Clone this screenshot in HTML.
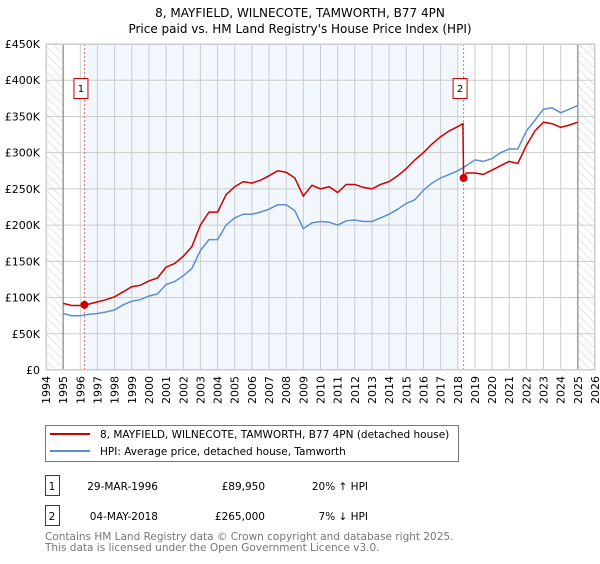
<!DOCTYPE html>
<html><head><meta charset="utf-8"><style>
body{margin:0;width:600px;height:560px;background:#fff;font-family:"DejaVu Sans","Liberation Sans",sans-serif;overflow:hidden}
svg text{font-family:"DejaVu Sans","Liberation Sans",sans-serif}
</style></head><body>
<svg id="chart" width="600" height="560">
<defs><pattern id="hatch" width="6" height="6" patternUnits="userSpaceOnUse" patternTransform="rotate(-45)"><line x1="0" y1="0" x2="0" y2="6" stroke="#ccc" stroke-width="1"/></pattern></defs>
<text x="300" y="17" text-anchor="middle" font-size="12">8, MAYFIELD, WILNECOTE, TAMWORTH, B77 4PN</text>
<text x="300" y="33" text-anchor="middle" font-size="12">Price paid vs. HM Land Registry's House Price Index (HPI)</text>
<g id="grid"></g><g id="series"></g><g id="axes"></g>
<g>
<rect x="45.5" y="425.5" width="413" height="36" fill="#fff" stroke="#777"/>
<line x1="50" y1="434" x2="90" y2="434" stroke="#cc0000" stroke-width="2"/>
<text x="100" y="438" font-size="10.5">8, MAYFIELD, WILNECOTE, TAMWORTH, B77 4PN (detached house)</text>
<line x1="50" y1="451" x2="90" y2="451" stroke="#5b8fd0" stroke-width="2"/>
<text x="100" y="455" font-size="10.5">HPI: Average price, detached house, Tamworth</text>
</g>
<g font-size="10.5">
<rect x="45.5" y="475.5" width="14" height="20" fill="#fff" stroke="#cc0000"/><text x="52" y="490" text-anchor="middle">1</text>
<text x="158" y="490" text-anchor="end">29-MAR-1996</text><text x="265" y="490" text-anchor="end">£89,950</text><text x="368" y="490" text-anchor="end">20% ↑ HPI</text>
<rect x="45.5" y="505.5" width="14" height="20" fill="#fff" stroke="#cc0000"/><text x="52" y="520" text-anchor="middle">2</text>
<text x="158" y="520" text-anchor="end">04-MAY-2018</text><text x="265" y="520" text-anchor="end">£265,000</text><text x="368" y="520" text-anchor="end">7% ↓ HPI</text>
</g>
<text x="45" y="540" font-size="10.5" fill="#777">Contains HM Land Registry data © Crown copyright and database right 2025.</text>
<text x="45" y="551" font-size="10.5" fill="#777">This data is licensed under the Open Government Licence v3.0.</text>
</svg>
<script>
const hpiYears=[1995,1995.5,1996,1996.5,1997,1997.5,1998,1998.5,1999,1999.5,2000,2000.5,2001,2001.5,2002,2002.5,2003,2003.5,2004,2004.5,2005,2005.5,2006,2006.5,2007,2007.5,2008,2008.5,2009,2009.5,2010,2010.5,2011,2011.5,2012,2012.5,2013,2013.5,2014,2014.5,2015,2015.5,2016,2016.5,2017,2017.5,2018,2018.5,2019,2019.5,2020,2020.5,2021,2021.5,2022,2022.5,2023,2023.5,2024,2024.5,2025];
const hpiValues=[78,75,75,77,78,80,83,90,95,97,102,105,118,122,130,140,165,180,180,200,210,215,215,218,222,228,228,220,195,203,205,204,200,206,207,205,205,210,215,222,230,235,248,258,265,270,275,282,290,288,292,300,305,305,330,345,360,362,355,360,365];
const redYears=[1995,1995.5,1996,1996.24,1996.5,1997,1997.5,1998,1998.5,1999,1999.5,2000,2000.5,2001,2001.5,2002,2002.5,2003,2003.5,2004,2004.5,2005,2005.5,2006,2006.5,2007,2007.5,2008,2008.5,2009,2009.5,2010,2010.5,2011,2011.5,2012,2012.5,2013,2013.5,2014,2014.5,2015,2015.5,2016,2016.5,2017,2017.5,2018,2018.3,2018.34,2018.5,2019,2019.5,2020,2020.5,2021,2021.5,2022,2022.5,2023,2023.5,2024,2024.5,2025];
const redValues=[92,89,89,90,91,94,97,101,108,115,117,123,127,142,147,157,170,200,218,218,242,253,260,258,262,268,275,273,265,240,255,250,253,245,256,256,252,250,256,260,268,278,290,300,312,322,330,336,340,265,272,272,270,276,282,288,285,310,330,342,340,335,338,342];
const yTicks=[0,50,100,150,200,250,300,350,400,450];
const xTicks=[1994,1995,1996,1997,1998,1999,2000,2001,2002,2003,2004,2005,2006,2007,2008,2009,2010,2011,2012,2013,2014,2015,2016,2017,2018,2019,2020,2021,2022,2023,2024,2025,2026];
const sales=[{t:1996.24,v:89.95,label:"1"},{t:2018.34,v:265,label:"2"}];
const X0=46,X1=595,Y0=370,Y1=44;
const x=t=>X0+(t-1994)/32*(X1-X0);
const y=v=>Y0-v/450*(Y0-Y1);
const NS="http://www.w3.org/2000/svg";
function mk(tag,parent,attrs){const e=document.createElementNS(NS,tag);for(const k in attrs)e.setAttribute(k,attrs[k]);parent.appendChild(e);return e;}
const grid=document.getElementById('grid'),series=document.getElementById('series'),axes=document.getElementById('axes');
mk('rect',grid,{x:X0,y:Y1,width:X1-X0,height:Y0-Y1,fill:'#fff'});
const shade=mk('rect',grid,{x:x(sales[0].t),y:Y1,width:x(2018)-x(sales[0].t),height:Y0-Y1,fill:'#eef3fc',opacity:0.75});


const h1=mk('rect',grid,{x:X0,y:Y1,width:x(1995)-X0,height:Y0-Y1,fill:'url(#hatch)'});


const h2=mk('rect',grid,{x:x(2025),y:Y1,width:X1-x(2025),height:Y0-Y1,fill:'url(#hatch)'});


yTicks.forEach(v=>{
  const l=mk('line',grid,{x1:X0,x2:X1,y1:y(v),y2:y(v),stroke:'#ccc','stroke-width':1});
  
  
  const t=mk('text',axes,{x:40,y:y(v)+4,'text-anchor':'end','font-size':11});
  t.textContent=v===0?'£0':'£'+v+'K';
  
  
});
xTicks.forEach(yr=>{
  const l=mk('line',grid,{x1:x(yr),x2:x(yr),y1:Y1,y2:Y0,stroke:'#ccc','stroke-width':1});
  
  
  const t=mk('text',axes,{x:x(yr)+4,y:Y0+6,'text-anchor':'end','font-size':11,transform:`rotate(-90 ${x(yr)+4} ${Y0+6})`});
  t.textContent=yr;
  
  
});
[1995,2025].forEach(yr=>{mk('line',grid,{x1:x(yr),x2:x(yr),y1:Y1,y2:Y0,stroke:'#888','stroke-width':1.2});});
sales.forEach(s=>{
  const l=mk('line',series,{x1:x(s.t),x2:x(s.t),y1:Y1,y2:Y0,stroke:'#f07070','stroke-width':1,'stroke-dasharray':'2,2'});
  
  
});
const hp=mk('path',series,{d:hpiYears.map((t,i)=>(i?'L':'M')+x(t).toFixed(1)+','+y(hpiValues[i]).toFixed(1)).join(''),fill:'none',stroke:'#5b8fd0','stroke-width':1.5});


const rp=mk('path',series,{d:redYears.map((t,i)=>(i?'L':'M')+x(t).toFixed(1)+','+y(redValues[i]).toFixed(1)).join(''),fill:'none',stroke:'#cc0000','stroke-width':1.5});


sales.forEach(s=>{
  const c=mk('circle',series,{cx:x(s.t),cy:y(s.v),r:4,fill:'#cc0000'});
  
  
  const g=mk('g',series,{});
  
  
  mk('rect',g,{x:x(s.t)-10.5,y:78.5,width:14,height:20,fill:'#fff',stroke:'#cc0000'});
  const t=mk('text',g,{x:x(s.t)-3.5,y:92,'text-anchor':'middle','font-size':10});
  t.textContent=s.label;
});
mk('rect',axes,{x:X0+.5,y:Y1+.5,width:X1-X0-1,height:Y0-Y1-1,fill:'none',stroke:'#ccc'});
</script>
</body></html>
